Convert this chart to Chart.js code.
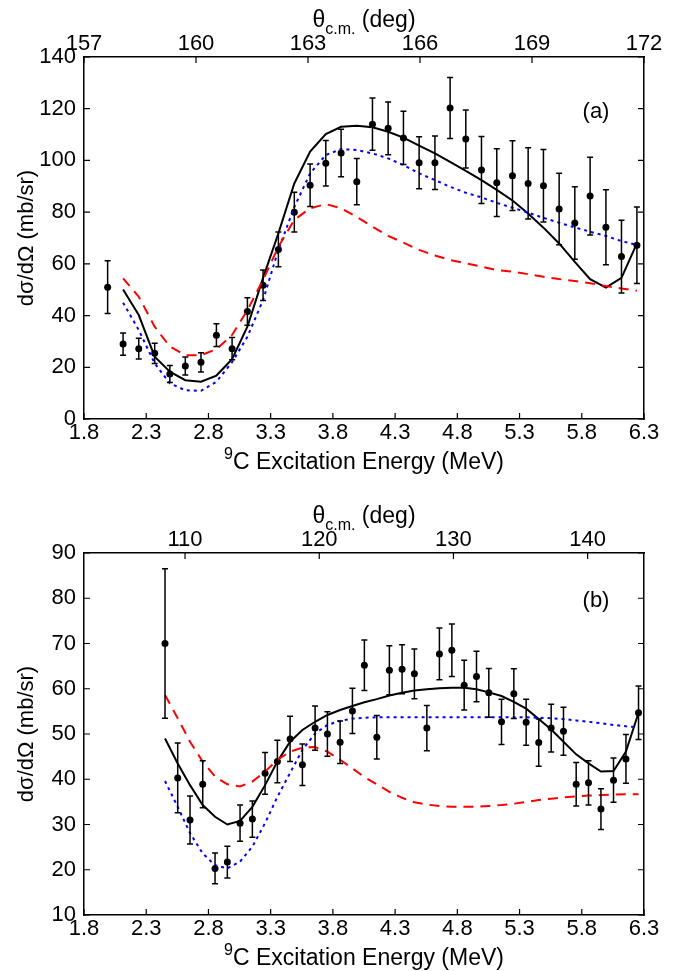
<!DOCTYPE html>
<html lang="en">
<head>
<meta charset="UTF-8">
<title>9C excitation energy cross sections</title>
<script src="https://cdn.jsdelivr.net/npm/chart.js@4"></script>
<style>
  body { margin: 0; background: #fff; }
  canvas { position: absolute; left: 0; }
</style>
</head>
<body>
<canvas id="chartA" width="681" height="488" style="top:0px"></canvas>
<canvas id="chartB" width="681" height="483" style="top:488px"></canvas>
<script>
// ---- panel (a) ----
var energyA = [1.99, 2.114, 2.24, 2.368, 2.49, 2.614, 2.74, 2.864, 2.99, 3.113, 3.239, 3.362, 3.49, 3.617, 3.743, 3.866, 3.992, 4.118, 4.244, 4.367, 4.493, 4.62, 4.742, 4.868, 4.994, 5.117, 5.243, 5.369, 5.492, 5.618, 5.744, 5.867, 5.994, 6.119, 6.243];
var sigmaA = [51.0, 29.0, 27.2, 25.4, 17.4, 20.5, 21.9, 32.4, 27.2, 41.6, 51.7, 65.6, 80.0, 90.4, 98.9, 102.9, 91.8, 114.0, 112.4, 108.7, 99.1, 99.1, 120.3, 108.3, 96.3, 91.4, 94.1, 91.1, 90.2, 81.2, 75.8, 86.2, 74.2, 62.8, 67.2];
var errA = [10.2, 4.3, 4.0, 3.9, 3.3, 3.5, 3.7, 4.4, 4.3, 5.3, 5.9, 6.7, 7.7, 8.2, 8.8, 9.2, 8.9, 10.1, 10.2, 10.3, 10.1, 10.3, 11.8, 11.2, 13.0, 13.1, 13.5, 13.8, 14.0, 13.8, 14.0, 15.0, 14.5, 14.1, 14.8];
var curveEnergyA = [2.114, 2.24, 2.368, 2.49, 2.614, 2.74, 2.864, 2.99, 3.113, 3.239, 3.362, 3.49, 3.617, 3.743, 3.866, 3.992, 4.118, 4.244, 4.367, 4.493, 4.62, 4.742, 4.868, 4.994, 5.117, 5.243, 5.369, 5.492, 5.618, 5.744, 5.867, 5.994, 6.119, 6.243];
var solidA = [50.1, 40.2, 24.1, 18.3, 15.0, 14.4, 16.8, 23.1, 35.7, 54.6, 71.8, 91.1, 103.4, 110.2, 113.0, 113.4, 112.8, 111.1, 108.8, 105.7, 102.7, 99.4, 96.0, 92.4, 88.6, 84.5, 79.5, 74.0, 67.9, 60.8, 54.1, 50.8, 54.6, 67.9];
var dottedA = [45.0, 34.4, 21.5, 13.8, 11.1, 10.9, 14.4, 22.0, 31.8, 46.0, 65.4, 82.0, 95.0, 102.1, 104.4, 104.0, 102.7, 100.8, 98.2, 95.0, 92.4, 89.8, 87.5, 85.7, 83.6, 81.7, 79.8, 77.8, 75.9, 74.1, 72.4, 70.8, 68.8, 67.3];
var dashedA = [54.4, 47.3, 35.7, 28.0, 24.7, 24.7, 27.0, 32.5, 42.1, 53.8, 66.6, 77.0, 81.5, 83.1, 81.5, 78.2, 74.4, 70.8, 68.2, 65.4, 63.2, 61.5, 60.2, 58.9, 57.6, 57.0, 56.0, 55.0, 54.1, 53.4, 52.5, 51.4, 50.5, 49.6];

// ---- panel (b) ----
var energyB = [2.451, 2.553, 2.652, 2.754, 2.853, 2.952, 3.054, 3.153, 3.255, 3.354, 3.456, 3.555, 3.657, 3.756, 3.858, 3.957, 4.053, 4.153, 4.254, 4.356, 4.455, 4.555, 4.656, 4.756, 4.855, 4.954, 5.053, 5.155, 5.254, 5.353, 5.454, 5.554, 5.653, 5.755, 5.854, 5.954, 6.055, 6.155, 6.256];
var sigmaB = [70.0, 40.3, 31.0, 38.9, 20.3, 21.7, 30.3, 31.2, 41.3, 43.9, 48.9, 43.2, 51.3, 50.0, 48.2, 55.1, 65.2, 49.3, 64.1, 64.3, 63.3, 51.3, 67.7, 68.5, 60.8, 62.7, 59.1, 52.7, 58.9, 52.6, 48.1, 51.3, 50.6, 38.9, 39.2, 33.4, 39.8, 44.5, 54.7];
var errB = [16.5, 7.7, 5.3, 5.2, 3.4, 3.5, 4.0, 4.0, 4.6, 4.7, 5.0, 4.6, 4.9, 4.9, 4.7, 5.0, 5.6, 4.8, 5.4, 5.4, 5.5, 5.0, 5.7, 5.8, 5.5, 5.6, 5.4, 5.0, 5.5, 5.1, 5.2, 5.3, 5.3, 4.8, 4.9, 4.5, 4.9, 5.4, 5.9];
var solidB = [49.0, 43.5, 38.7, 34.3, 31.7, 30.0, 30.8, 33.9, 38.7, 43.9, 48.3, 50.9, 52.7, 54.2, 55.3, 56.2, 57.0, 57.7, 58.5, 59.1, 59.6, 59.9, 60.1, 60.2, 60.2, 59.9, 59.2, 58.4, 57.1, 55.6, 53.3, 51.0, 48.3, 45.5, 43.5, 41.7, 41.8, 46.1, 54.7];
var dottedB = [39.6, 33.9, 28.1, 23.6, 21.0, 20.3, 21.8, 25.1, 30.3, 36.1, 41.4, 46.5, 50.1, 52.0, 52.9, 53.4, 53.6, 53.7, 53.7, 53.7, 53.7, 53.7, 53.7, 53.7, 53.7, 53.7, 53.7, 53.7, 53.7, 53.7, 53.6, 53.5, 53.3, 53.0, 52.7, 52.4, 52.0, 51.7, 51.5];
var dashedB = [58.6, 53.5, 48.3, 43.9, 40.6, 38.9, 38.4, 39.5, 41.7, 44.3, 46.1, 47.0, 47.1, 46.1, 44.3, 42.4, 40.5, 38.9, 37.2, 35.9, 34.9, 34.4, 34.1, 33.9, 33.9, 33.9, 34.1, 34.3, 34.6, 35.0, 35.4, 35.7, 36.0, 36.2, 36.4, 36.5, 36.6, 36.7, 36.7];

// ---- ticks ----
var energyTicks = [1.8, 2.3, 2.8, 3.3, 3.8, 4.3, 4.8, 5.3, 5.8, 6.3];
var thetaTicksA = [157, 160, 163, 166, 169, 172];
var thetaTicksB = [110, 120, 130, 140];
var yTicksA = [0, 20, 40, 60, 80, 100, 120, 140];
var yTicksB = [10, 20, 30, 40, 50, 60, 70, 80, 90];

var FONT = "'Liberation Sans', Arial, Helvetica, sans-serif";
Chart.defaults.font.family = FONT;
Chart.defaults.color = '#000';

function pts(xs, ys) {
    return xs.map(function (x, i) { return { x: x, y: ys[i] }; });
}

function fixTicks(list) {
    return function (scale) {
        scale.ticks = list.map(function (v) { return { value: v }; });
    };
}

function extras(p) {
    return {
        id: 'extras',
        afterDatasetsDraw: function (chart) {
            // error bars
            var ctx = chart.ctx, sx = chart.scales.x, sy = chart.scales.y;
            ctx.save();
            ctx.strokeStyle = '#000';
            ctx.lineWidth = 1.5;
            p.energy.forEach(function (e, i) {
                var x = sx.getPixelForValue(e);
                var y1 = sy.getPixelForValue(p.sigma[i] + p.err[i]);
                var y2 = sy.getPixelForValue(p.sigma[i] - p.err[i]);
                ctx.beginPath();
                ctx.moveTo(x, y1); ctx.lineTo(x, y2);
                ctx.moveTo(x - 3, y1); ctx.lineTo(x + 3, y1);
                ctx.moveTo(x - 3, y2); ctx.lineTo(x + 3, y2);
                ctx.stroke();
            });
            ctx.restore();
        },
        afterDraw: function (chart) {
            var ctx = chart.ctx, a = chart.chartArea;
            var sx = chart.scales.x, sy = chart.scales.y, st = chart.scales.x2;
            ctx.save();
            ctx.strokeStyle = '#000';
            ctx.lineWidth = 1.2;
            ctx.beginPath();
            energyTicks.forEach(function (v) {
                var x = sx.getPixelForValue(v);
                ctx.moveTo(x, a.bottom); ctx.lineTo(x, a.bottom - 6);
            });
            p.thetaTicks.forEach(function (v) {
                var x = st.getPixelForValue(v);
                ctx.moveTo(x, a.top); ctx.lineTo(x, a.top + 6);
            });
            p.yTicks.forEach(function (v) {
                var y = sy.getPixelForValue(v);
                ctx.moveTo(a.left, y); ctx.lineTo(a.left + 6, y);
                ctx.moveTo(a.right, y); ctx.lineTo(a.right - 6, y);
            });
            ctx.stroke();

            ctx.fillStyle = '#000';
            ctx.textBaseline = 'alphabetic';
            ctx.textAlign = 'left';
            var cx = (a.left + a.right) / 2;

            // top title: theta c.m. (deg)
            var big = '23px ' + FONT, small = '16px ' + FONT;
            ctx.font = big;
            var w1 = ctx.measureText('\u03b8').width, w3 = ctx.measureText(' (deg)').width;
            ctx.font = small;
            var w2 = ctx.measureText('c.m.').width;
            var x0 = cx - (w1 + w2 + w3) / 2, by = a.top - 30;
            ctx.font = big; ctx.fillText('\u03b8', x0, by);
            ctx.font = small; ctx.fillText('c.m.', x0 + w1, by + 7);
            ctx.font = big; ctx.fillText(' (deg)', x0 + w1 + w2, by);

            // bottom title: 9C Excitation Energy (MeV)
            ctx.font = small;
            var s1 = ctx.measureText('9').width;
            ctx.font = big;
            var s2 = ctx.measureText('C Excitation Energy (MeV)').width;
            var x1 = cx - (s1 + s2) / 2, by2 = a.bottom + 50;
            ctx.font = small; ctx.fillText('9', x1, by2 - 10);
            ctx.font = big; ctx.fillText('C Excitation Energy (MeV)', x1 + s1, by2);

            // y title
            ctx.save();
            ctx.translate(33, (a.top + a.bottom) / 2);
            ctx.rotate(-Math.PI / 2);
            ctx.textAlign = 'center';
            ctx.font = '22px ' + FONT;
            ctx.fillText('d\u03c3/d\u03a9 (mb/sr)', 0, 0);
            ctx.restore();

            // panel label
            ctx.textAlign = 'center';
            ctx.textBaseline = 'middle';
            ctx.font = '22px ' + FONT;
            ctx.fillText(p.label, a.right - 48, a.top + p.labelDy);
            ctx.restore();
        }
    };
}

function makeChart(id, p) {
    var tickFont = { size: 22, family: FONT };
    var gridOff = { display: false, drawOnChartArea: false, drawTicks: false };
    var border = { display: true, color: '#000', width: 1.5 };
    new Chart(document.getElementById(id), {
        type: 'scatter',
        data: {
            datasets: [
                { data: pts(p.curveE, p.dashed), showLine: true, pointRadius: 0, borderColor: '#ff0000', borderWidth: 2, borderDash: [10, 7], fill: false },
                { data: pts(p.curveE, p.dotted), showLine: true, pointRadius: 0, borderColor: '#0000ff', borderWidth: 2, borderDash: [3, 4], fill: false },
                { data: pts(p.curveE, p.solid), showLine: true, pointRadius: 0, borderColor: '#000', borderWidth: 2, fill: false },
                { data: pts(p.energy, p.sigma), showLine: false, pointRadius: 3.5, pointBackgroundColor: '#000', pointBorderColor: '#000', pointBorderWidth: 0 }
            ]
        },
        options: {
            responsive: false,
            animation: false,
            devicePixelRatio: 1,
            layout: { padding: 0 },
            plugins: { legend: { display: false }, tooltip: { enabled: false } },
            scales: {
                x: {
                    type: 'linear', position: 'bottom', min: 1.8, max: 6.3,
                    afterBuildTicks: fixTicks(energyTicks),
                    afterFit: function (s) { s.height = p.bottomH; },
                    grid: gridOff, border: border,
                    ticks: { font: tickFont, padding: 1, maxRotation: 0, autoSkip: false, callback: function (v) { return v.toFixed(1); } }
                },
                x2: {
                    type: 'linear', position: 'top', min: p.thetaMin, max: p.thetaMax,
                    afterBuildTicks: fixTicks(p.thetaTicks),
                    afterFit: function (s) { s.height = p.topH; },
                    grid: gridOff, border: border,
                    ticks: { font: tickFont, padding: 0, maxRotation: 0, autoSkip: false, callback: function (v) { return String(v); } }
                },
                y: {
                    type: 'linear', position: 'left', min: p.yMin, max: p.yMax,
                    afterBuildTicks: fixTicks(p.yTicks),
                    afterFit: function (s) { s.width = 84; },
                    grid: gridOff, border: border,
                    ticks: { font: tickFont, padding: 8, autoSkip: false, callback: function (v) { return String(v); } }
                },
                y2: {
                    type: 'linear', position: 'right', min: p.yMin, max: p.yMax,
                    afterFit: function (s) { s.width = 37; },
                    grid: gridOff, border: border,
                    ticks: { display: false }
                }
            }
        },
        plugins: [extras(p)]
    });
}

makeChart('chartA', {
    energy: energyA, sigma: sigmaA, err: errA, curveE: curveEnergyA,
    solid: solidA, dotted: dottedA, dashed: dashedA,
    thetaTicks: thetaTicksA, thetaMin: 157, thetaMax: 172,
    yTicks: yTicksA, yMin: 0, yMax: 140,
    topH: 57, bottomH: 69, label: '(a)', labelDy: 55
});

makeChart('chartB', {
    energy: energyB, sigma: sigmaB, err: errB, curveE: energyB,
    solid: solidB, dotted: dottedB, dashed: dashedB,
    thetaTicks: thetaTicksB, thetaMin: 102.47, thetaMax: 144.2,
    yTicks: yTicksB, yMin: 10, yMax: 90,
    topH: 65, bottomH: 56, label: '(b)', labelDy: 48
});
</script>
</body>
</html>
